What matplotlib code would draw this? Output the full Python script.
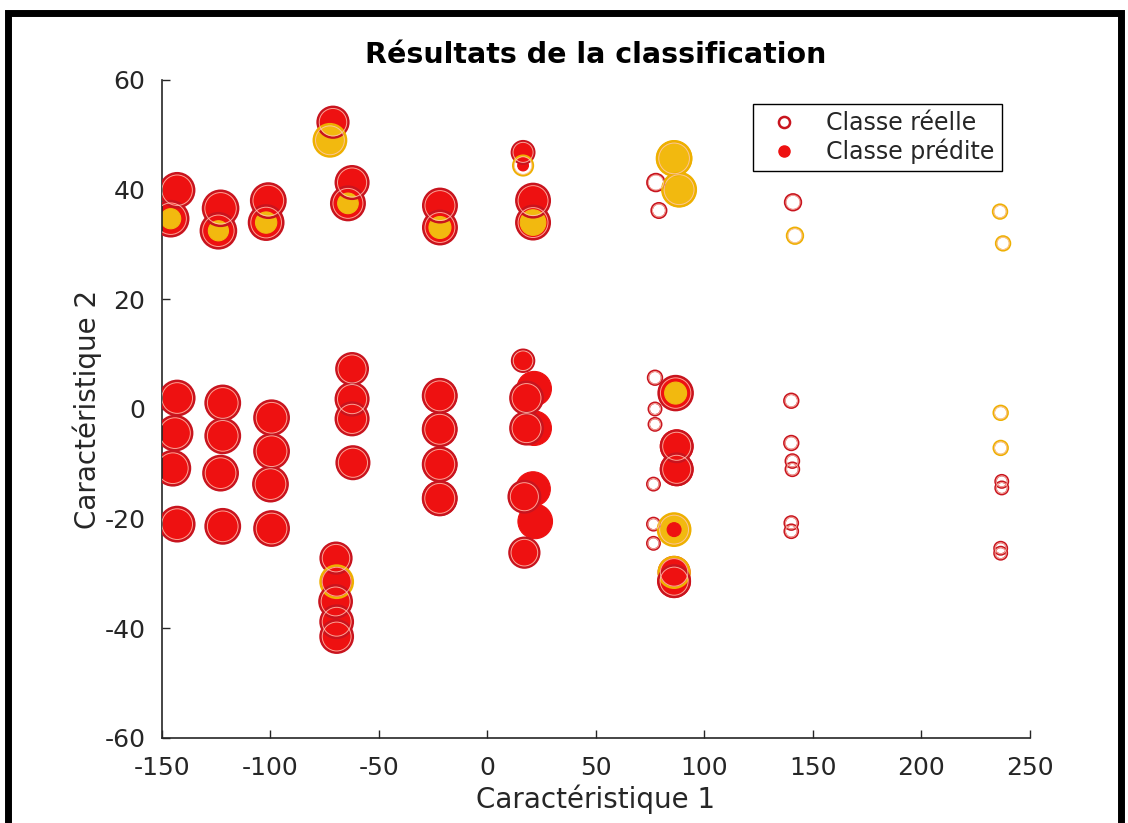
import matplotlib
matplotlib.use("Agg")
import matplotlib.pyplot as plt
from matplotlib.lines import Line2D
from matplotlib.patches import Rectangle

plt.rcParams["axes.unicode_minus"] = False

# classe 1 = rouge, classe 2 = jaune
# classe réelle (cercles vides)
real_x = [-143, -146, -143, -144, -145, -143,
          -123, -124, -122, -122, -123, -122,
          -101, -102, -99.5, -99.5, -100, -99.5,
          -71.2, -72.6, -69.8, -69.5, -70, -69.5, -69.5,
          -62.4, -64.3, -62.4, -62.4, -62.4, -62,
          -21.9, -21.9, -22, -22, -22, -22,
          16.4, 16.4, 21, 21, 16.4, 18, 18, 17, 17,
          77.6, 79, 86, 88.3,
          77.2, 77.2, 77.2, 76.5, 76.5, 76.5,
          86.7, 87.2, 87.2, 86, 86, 86,
          140.8, 141.7, 140, 140, 140.5, 140.5, 140, 140,
          236.2, 237.6, 236.5, 236.5, 237, 237, 236.5, 236.5]
real_y = [39.9, 34.7, 2.0, -4.4, -10.8, -21.0,
          36.6, 32.5, 1.1, -4.9, -11.7, -21.4,
          38.0, 34.0, -1.6, -7.7, -13.7, -21.8,
          52.3, 49.0, -27.2, -31.5, -35.1, -38.8, -41.5,
          41.3, 37.5, 7.3, 1.8, -1.8, -9.8,
          37.1, 33.1, 2.4, -3.7, -10.1, -16.3,
          46.8, 44.4, 38.0, 34.0, 8.8, 2.0, -3.5, -16.0, -26.2,
          41.3, 36.2, 45.7, 40.0,
          5.7, 0.0, -2.8, -13.7, -21.0, -24.5,
          2.9, -6.8, -11.0, -22.0, -29.8, -31.4,
          37.7, 31.6, 1.5, -6.2, -9.5, -11.0, -20.8, -22.3,
          36.0, 30.2, -0.7, -7.1, -13.2, -14.4, -25.4, -26.3]
real_s = [600, 640, 610, 610, 610, 610,
          640, 640, 610, 610, 610, 610,
          610, 610, 610, 610, 610, 610,
          490, 540, 490, 540, 540, 540, 540,
          550, 580, 510, 550, 550, 550,
          580, 580, 580, 580, 580, 580,
          260, 200, 580, 580, 250, 540, 540, 510, 460,
          150, 110, 610, 580,
          100, 80, 80, 80, 80, 80,
          600, 510, 510, 540, 490, 510,
          130, 130, 100, 100, 90, 90, 90, 90,
          100, 100, 100, 100, 80, 80, 80, 80]
real_cls = [1, 1, 1, 1, 1, 1,
            1, 1, 1, 1, 1, 1,
            1, 1, 1, 1, 1, 1,
            1, 2, 1, 2, 1, 1, 1,
            1, 1, 1, 1, 1, 1,
            1, 1, 1, 1, 1, 1,
            1, 2, 1, 1, 1, 1, 1, 1, 1,
            1, 1, 2, 2,
            1, 1, 1, 1, 1, 1,
            1, 1, 1, 2, 2, 1,
            1, 2, 1, 1, 1, 1, 1, 1,
            2, 2, 2, 2, 1, 1, 1, 1]

# classe prédite (cercles pleins), dans l'ordre de tracé
pred_x = [-143, -146, -143, -144, -145, -143,
          -123, -124, -122, -122, -123, -122,
          -101, -102, -99.5, -99.5, -100, -99.5,
          -71.2, -69.8, -69.5, -70, -69.5, -69.5,
          -62.4, -64.3, -62.4, -62.4, -62.4, -62,
          -21.9, -21.9, -22, -22, -22, -22,
          16.4, 21, 21, 16.4, 18, 18, 17, 17, 21.5, 21.5, 21, 22,
          86.7, 87.2, 87.2, 86, 86,
          -146, -124, -102, -72.6, -64.3, -21.9, 21,
          86, 88.3, 86.7, 86,
          16.4, 86]
pred_y = [39.9, 34.7, 2.0, -4.4, -10.8, -21.0,
          36.6, 32.5, 1.1, -4.9, -11.7, -21.4,
          38.0, 34.0, -1.6, -7.7, -13.7, -21.8,
          52.3, -27.2, -31.5, -35.1, -38.8, -41.5,
          41.3, 37.5, 7.3, 1.8, -1.8, -9.8,
          37.1, 33.1, 2.4, -3.7, -10.1, -16.3,
          46.8, 38.0, 34.0, 8.8, 2.0, -3.5, -16.0, -26.2, 3.7, -3.5, -14.6, -20.5,
          2.9, -6.8, -11.0, -29.8, -31.4,
          34.7, 32.5, 34.0, 49.0, 37.5, 33.1, 34.0,
          45.7, 40.0, 2.9, -22.0,
          44.4, -22.0]
pred_s = [580, 620, 600, 600, 600, 600,
          620, 620, 600, 600, 600, 600,
          600, 600, 600, 600, 600, 600,
          480, 480, 500, 530, 530, 530,
          530, 560, 500, 530, 530, 530,
          570, 570, 600, 600, 600, 610,
          240, 570, 570, 180, 500, 500, 480, 430, 620, 620, 620, 620,
          600, 560, 560, 530, 560,
          210, 210, 235, 520, 220, 250, 340,
          640, 600, 250, 540,
          60, 100]
pred_cls = [1] * 53 + [2] * 11 + [1, 1]

FILL = {1: "#ee1111", 2: "#f2b90f"}
EDGE = {1: "#c8141e", 2: "#eeb000"}
INK = "#262626"

fig = plt.figure(figsize=(11.28, 8.23), dpi=100)
ax = fig.add_axes([0.1436, 0.1033, 0.7695, 0.7995])

ax.scatter(pred_x, pred_y, s=pred_s, c=[FILL[k] for k in pred_cls],
           edgecolors=[FILL[k] for k in pred_cls], linewidths=0.8, zorder=2)
ax.scatter(real_x, real_y, s=real_s, facecolors="none",
           edgecolors=[EDGE[k] for k in real_cls], linewidths=1.8, zorder=3)
# liseré clair à l'intérieur des cercles vides
ax.scatter(real_x, real_y, s=[v * 0.8 for v in real_s], facecolors="none",
           edgecolors="#ffc8b8", linewidths=0.7, alpha=0.8, zorder=3)

ax.set_xlim(-150, 250)
ax.set_ylim(-60, 60)
ax.set_xticks(range(-150, 251, 50))
ax.set_yticks(range(-60, 61, 20))
for side in ("top", "right"):
    ax.spines[side].set_visible(False)
for side in ("left", "bottom"):
    ax.spines[side].set_color(INK)
    ax.spines[side].set_linewidth(1.2)
ax.tick_params(direction="in", length=6, width=1.0, color=INK,
               labelcolor=INK, labelsize=18)
ax.tick_params(axis="x", pad=13)
ax.tick_params(axis="y", pad=12)

ax.set_xlabel("Caractéristique 1", fontsize=20, color=INK, labelpad=3)
ax.set_ylabel("Caractéristique 2", fontsize=20, color=INK, labelpad=2)
ax.set_title("Résultats de la classification", fontsize=20.5,
             fontweight="bold", color="black", pad=12)

handles = [
    Line2D([], [], ls="none", marker="o", ms=8, mfc="none", mec=EDGE[1], mew=1.8),
    Line2D([], [], ls="none", marker="o", ms=8, mfc=FILL[1], mec=FILL[1]),
]
leg = ax.legend(handles, ["Classe réelle", "Classe prédite"], loc="upper left",
                bbox_to_anchor=(0.681, 0.9635), borderaxespad=0, fontsize=17,
                frameon=True, fancybox=False, edgecolor="black", framealpha=1,
                borderpad=0.3, handlelength=2.0, handletextpad=0.8,
                labelspacing=0.15)
leg.get_frame().set_linewidth(1.0)
for t in leg.get_texts():
    t.set_color(INK)

# cadre noir autour de la figure
fig.patches.append(Rectangle((7.5 / 1128, -0.05), 1113 / 1128, 1.05 - 13.5 / 823,
                             transform=fig.transFigure, fill=False,
                             ec="black", lw=5, clip_on=False))

fig.savefig("out.png", dpi=100)
